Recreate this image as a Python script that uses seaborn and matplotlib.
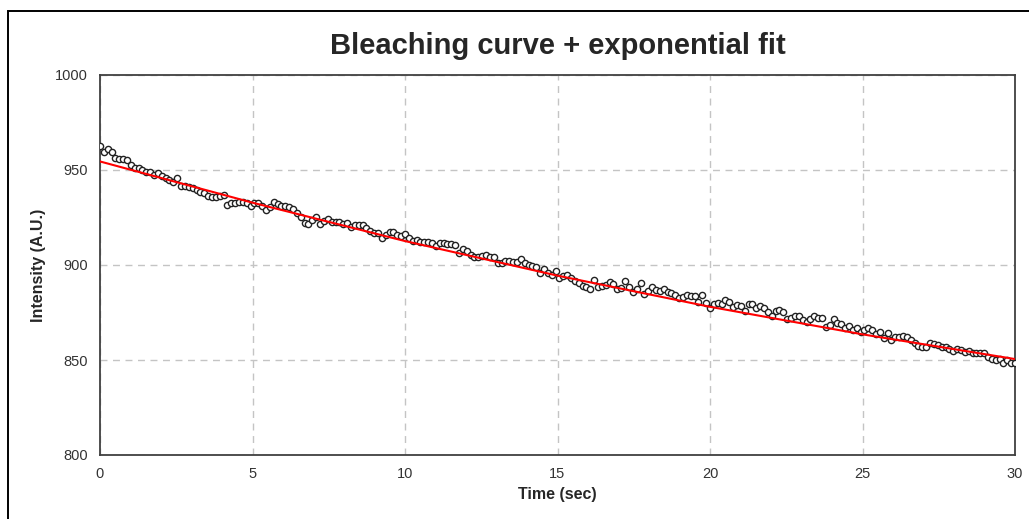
import numpy as np
import pandas as pd
import seaborn as sns
import matplotlib.pyplot as plt
from matplotlib.patches import Rectangle

# ============ Data ============
intensity = [
    # 0 - 6.5 s
    962.6, 959.6, 961.0, 959.6, 956.1, 955.6, 955.6, 955.0, 952.6, 951.0,
    951.0, 950.0, 949.0, 949.0, 947.4, 948.3, 946.8, 945.6, 944.7, 943.9,
    945.6, 941.6, 941.6, 940.9, 940.4, 939.5, 938.6, 937.7, 936.3, 936.0,
    936.0, 936.3, 936.8, 931.6, 932.5, 932.8, 933.3, 933.3, 932.5, 931.0,
    932.8, 932.8, 931.0, 929.0, 930.3, 933.3, 932.0, 931.0, 931.0, 930.3,
    929.3, 927.5, 925.4, 922.0, 921.6,
    # 6.5 - 16.3 s
    923.7, 925.1, 921.6, 923.3, 924.0, 922.8, 922.8, 922.8, 921.6, 922.0,
    920.2, 921.0, 921.0, 921.0, 919.3, 918.1, 916.7, 916.7, 914.0, 915.8,
    917.5, 917.5, 915.8, 915.3, 916.3, 914.0, 912.8, 913.2, 912.3, 912.3,
    912.3, 911.8, 910.0, 911.8, 911.8, 911.0, 911.0, 910.5, 906.1, 908.2,
    907.5, 905.3, 904.4, 904.4, 904.7, 905.3, 904.4, 904.4, 901.2, 900.9,
    902.3, 902.3, 901.8, 901.8, 903.0, 901.2, 900.0, 899.5, 898.8, 895.6,
    897.7, 896.0, 894.7, 897.0, 893.0, 894.2, 894.7, 893.0, 891.8, 890.4,
    889.0, 888.3, 887.2, 892.1, 888.6, 889.0, 889.5,
    # 16.3 - 20.5 s
    891.2, 889.8, 887.4, 888.1, 891.6, 888.6, 885.6, 887.4, 890.4, 884.6,
    886.3, 888.6, 886.8, 886.3, 887.4, 886.0, 885.1, 884.2, 882.8, 883.3,
    884.2, 883.9, 883.9, 880.7, 884.2, 879.8, 877.2, 879.3, 879.8, 879.3,
    881.6, 880.7, 878.1, 878.9,
    # 20.5 - 25.4 s
    878.6, 875.8, 879.3, 879.3, 877.5, 878.6, 877.2, 875.1, 873.4, 875.8,
    876.3, 875.4, 871.6, 872.0, 873.4, 873.4, 871.0, 869.8, 871.6, 873.4,
    872.3, 872.0, 867.5, 868.4, 871.6, 869.3, 868.8, 867.0, 868.1, 865.8,
    866.7, 864.9, 865.8, 867.0, 865.8, 863.5, 864.6, 861.4,
    # 25.4 - 30 s
    864.0, 860.5, 862.3, 862.3, 862.6, 862.3, 860.5, 858.8, 857.4, 857.0,
    857.0, 858.8, 858.4, 857.9, 857.0, 856.7, 855.6, 854.9, 855.6, 855.3,
    854.4, 854.9, 853.8, 853.8, 853.5, 853.8, 851.8, 850.4, 850.0, 850.4,
    848.3, 850.0, 848.6, 848.6,
]
total_time = 30.0
frame_dt = total_time / (len(intensity) - 1)
time_sec = np.arange(len(intensity)) * frame_dt

# exponential fit curve, sampled every 5 s
fit_time = [0, 5, 10, 15, 20, 25, 30]
fit_values = [954.5, 932.8, 912.6, 894.4, 878.0, 863.5, 850.5]

df = pd.DataFrame({"Time": time_sec, "Intensity": intensity})
fit_df = pd.DataFrame({"Time": fit_time, "Intensity": fit_values})

# ============ style ============
sns.set_style("white")
plt.rcParams['font.family'] = ['Liberation Sans', 'DejaVu Sans']

fig = plt.figure(figsize=(10.29, 5.19), dpi=100)
ax = fig.add_axes([100 / 1029, 1 - 455 / 519, 915 / 1029, 380 / 519])

sns.scatterplot(data=df, x="Time", y="Intensity", ax=ax, marker="o",
                color="white", edgecolor="#222222", s=20, linewidth=1.0, zorder=3)
sns.lineplot(data=fit_df, x="Time", y="Intensity", ax=ax, color="red",
             linewidth=1.5, zorder=4)

ax.set_xlim(0, 30)
ax.set_ylim(800, 1000)
ax.set_xticks(range(0, 31, 5))
ax.set_yticks(range(800, 1001, 50))
ax.grid(True, color="#c4c4c4", linestyle=(0, (5, 4)), linewidth=1.0)
ax.set_axisbelow(True)
for sp in ax.spines.values():
    sp.set_color("#404040")
    sp.set_linewidth(1.3)
ax.tick_params(direction="in", length=3, width=1, color="#404040",
               labelsize=10.5, labelcolor="#333333", pad=9)

ax.set_xlabel("Time (sec)", fontsize=11.5, fontweight="bold", labelpad=4)
ax.set_ylabel("Intensity (A.U.)", fontsize=11.5, fontweight="bold", labelpad=6)
ax.set_title("Bleaching curve + exponential fit", fontsize=21,
             fontweight="bold", pad=15)

# outer chart border
fig.patches.append(Rectangle((8 / 1029, -0.1), 1.2, 1.1 - 11 / 519,
                             transform=fig.transFigure, fill=False,
                             edgecolor="black", linewidth=1.4))

fig.savefig("out.png", dpi=100)
